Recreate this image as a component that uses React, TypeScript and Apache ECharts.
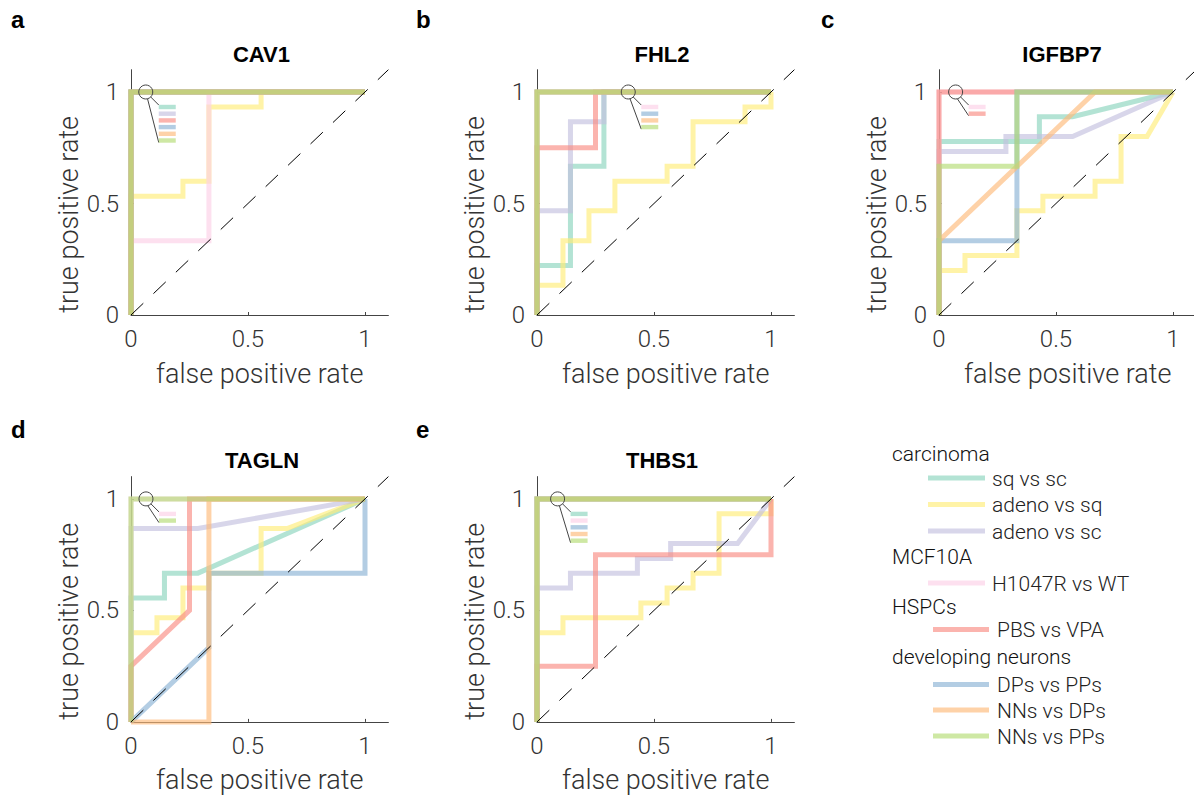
import React, { useEffect, useRef } from 'react';
import * as echarts from 'echarts';

// ---------- data ----------
const seriesNames = ['sq vs sc', 'adeno vs sq', 'adeno vs sc', 'H1047R vs WT', 'PBS vs VPA', 'DPs vs PPs', 'NNs vs DPs', 'NNs vs PPs'];
const seriesColors = ['#8ad4bd', '#ffec78', '#c3c0df', '#fccfe7', '#f98c82', '#8ab2d4', '#fdba79', '#b4dc73'];
const panelLetters = ['a', 'b', 'c', 'd', 'e'];
const panelTitles = ['CAV1', 'FHL2', 'IGFBP7', 'TAGLN', 'THBS1'];
const tickValues = [0, 0.5, 1];
const xAxisName = 'false positive rate';
const yAxisName = 'true positive rate';

const perfect = [[0, 0], [0, 1], [1, 1]];

const cav1 = [
  perfect,
  [[0, 0], [0, 0.533], [0.222, 0.533], [0.222, 0.6], [0.333, 0.6], [0.333, 0.933], [0.556, 0.933], [0.556, 1], [1, 1]],
  perfect,
  [[0, 0], [0, 0.333], [0.333, 0.333], [0.333, 1], [1, 1]],
  perfect,
  perfect,
  perfect,
  perfect,
];

const fhl2 = [
  [[0, 0], [0, 0.222], [0.143, 0.222], [0.143, 0.667], [0.286, 0.667], [0.286, 1], [1, 1]],
  [[0, 0], [0, 0.133], [0.111, 0.133], [0.111, 0.333], [0.222, 0.333], [0.222, 0.467], [0.333, 0.467], [0.333, 0.6], [0.556, 0.6], [0.556, 0.667], [0.667, 0.667], [0.667, 0.867], [0.889, 0.867], [0.889, 0.933], [1, 0.933], [1, 1]],
  [[0, 0], [0, 0.467], [0.143, 0.467], [0.143, 0.867], [0.286, 0.867], [0.286, 1], [1, 1]],
  perfect,
  [[0, 0], [0, 0.75], [0.25, 0.75], [0.25, 1], [1, 1]],
  perfect,
  perfect,
  perfect,
];

const igfbp7 = [
  [[0, 0], [0, 0.778], [0.429, 0.778], [0.429, 0.889], [0.571, 0.889], [1, 1]],
  [[0, 0], [0, 0.2], [0.111, 0.2], [0.111, 0.267], [0.333, 0.267], [0.333, 0.467], [0.444, 0.467], [0.444, 0.533], [0.667, 0.533], [0.667, 0.6], [0.778, 0.6], [0.778, 0.8], [0.889, 0.8], [1, 1]],
  [[0, 0], [0, 0.733], [0.286, 0.733], [0.286, 0.8], [0.571, 0.8], [1, 1]],
  perfect,
  perfect,
  [[0, 0], [0, 0.333], [0.333, 0.333], [0.333, 1], [1, 1]],
  [[0, 0], [0, 0.333], [0.667, 1], [1, 1]],
  [[0, 0], [0, 0.667], [0.333, 0.667], [0.333, 1], [1, 1]],
];

const tagln = [
  [[0, 0], [0, 0.556], [0.143, 0.556], [0.143, 0.667], [0.286, 0.667], [1, 1]],
  [[0, 0], [0, 0.4], [0.111, 0.4], [0.111, 0.467], [0.222, 0.467], [0.222, 0.6], [0.333, 0.6], [0.333, 0.667], [0.556, 0.667], [0.556, 0.867], [0.667, 0.867], [1, 1]],
  [[0, 0], [0, 0.867], [0.286, 0.867], [1, 1]],
  perfect,
  [[0, 0], [0, 0.25], [0.25, 0.5], [0.25, 1], [1, 1]],
  [[0, 0], [0.333, 0.333], [0.333, 0.667], [1, 0.667], [1, 1]],
  [[0, 0], [0.333, 0], [0.333, 1], [1, 1]],
  perfect,
];

const thbs1 = [
  perfect,
  [[0, 0], [0, 0.4], [0.111, 0.4], [0.111, 0.467], [0.444, 0.467], [0.444, 0.533], [0.556, 0.533], [0.556, 0.6], [0.667, 0.6], [0.667, 0.667], [0.778, 0.667], [0.778, 0.933], [1, 0.933], [1, 1]],
  [[0, 0], [0, 0.6], [0.143, 0.6], [0.143, 0.667], [0.429, 0.667], [0.429, 0.733], [0.571, 0.733], [0.571, 0.8], [0.857, 0.8], [1, 1]],
  perfect,
  [[0, 0], [0, 0.25], [0.25, 0.25], [0.25, 0.75], [1, 0.75], [1, 1]],
  perfect,
  perfect,
  perfect,
];

const panelCurves = [cav1, fhl2, igfbp7, tagln, thbs1];
const chanceLine = [[0, 0], [1.1, 1.1]];

// series hidden under the perfect curve, listed in each panel's inset
const hiddenPerPanel = [[0, 2, 4, 5, 6, 7], [3, 5, 6, 7], [3, 4], [3, 7], [0, 3, 5, 6, 7]];

const legendGroups = [
  { title: 'carcinoma', items: [0, 1, 2] },
  { title: 'MCF10A', items: [3] },
  { title: 'HSPCs', items: [4] },
  { title: 'developing neurons', items: [5, 6, 7] },
];

// ---------- layout (style, not data) ----------
const UX = 234;
const UY = 223;
const GW = UX * 1.1;
const GH = UY * 1.1;
const gridPos = [
  { left: 131, top: 69.7 },
  { left: 537, top: 69.7 },
  { left: 939, top: 69.7 },
  { left: 131, top: 476.6 },
  { left: 537, top: 476.6 },
];
const titlePos = [
  { x: 256.5, y: 51 }, { x: 657, y: 51 }, { x: 1057, y: 51 }, { x: 257, y: 457 }, { x: 657, y: 457 },
];
const letterPos = [
  { x: 11, y: 21 }, { x: 416, y: 21 }, { x: 821, y: 21 }, { x: 11, y: 431 }, { x: 416, y: 431 },
];
const insetX = [0.063, 0.39, 0.071, 0.064, 0.088];
const legendRowY = [455, 478, 504.5, 531, 558, 583, 608, 629.5, 658, 684.5, 710, 736];

const LIGHT = 'Roboto, "Open Sans", sans-serif';
const BOLD = '"Liberation Sans", Arial, sans-serif';
const OPA = 0.65;

function buildOption() {
  const grid: any[] = [];
  const xAxis: any[] = [];
  const yAxis: any[] = [];
  const series: any[] = [];
  const graphic: any[] = [];
  const title: any[] = [];

  gridPos.forEach((g, p) => {
    grid.push({ left: g.left, top: g.top, width: GW, height: GH, containLabel: false, outerBoundsMode: 'none' });
    const common = {
      type: 'value',
      min: 0,
      max: 1.1,
      interval: 0.5,
      gridIndex: p,
      splitLine: { show: false },
      axisLine: { show: true, lineStyle: { color: '#444', width: 1 } },
      axisTick: { show: true, inside: true, length: 3, customValues: tickValues, lineStyle: { color: '#444' } },
      axisLabel: {
        customValues: tickValues,
        formatter: (v: number) => String(v),
        color: '#333',
        fontFamily: LIGHT,
        fontWeight: 300,
        fontSize: 24,
        margin: 12,
      },
      nameLocation: 'middle',
      nameTextStyle: { color: '#333', fontFamily: LIGHT, fontWeight: 300, fontSize: 27 },
    };
    xAxis.push({ ...common, name: xAxisName, nameGap: 45 });
    yAxis.push({ ...common, name: yAxisName, nameGap: 49, nameTextStyle: { ...common.nameTextStyle, padding: [0, 44, 0, 0] } });

    panelCurves[p].forEach((curve, i) => {
      series.push({
        type: 'line',
        name: seriesNames[i],
        xAxisIndex: p,
        yAxisIndex: p,
        data: curve,
        symbol: 'none',
        clip: false,
        lineStyle: { color: seriesColors[i], width: 5, opacity: OPA, join: 'miter' },
        itemStyle: { color: seriesColors[i] },
        z: 2 + i * 0.01,
        silent: true,
      });
    });
    series.push({
      type: 'line',
      name: 'chance',
      xAxisIndex: p,
      yAxisIndex: p,
      data: chanceLine,
      symbol: 'none',
      clip: false,
      lineStyle: { color: '#000', width: 1, type: [17, 14] },
      z: 3,
      silent: true,
    });

    title.push({
      text: panelTitles[p],
      left: titlePos[p].x,
      top: titlePos[p].y - 13,
      textAlign: 'center',
      textStyle: { fontFamily: BOLD, fontWeight: 'bold', fontSize: 22, color: '#000' },
    });

    graphic.push({
      type: 'text',
      left: letterPos[p].x,
      top: letterPos[p].y - 14,
      style: { text: panelLetters[p], font: `bold 24px ${BOLD}`, fill: '#000' },
    });

    // inset pointer listing hidden curves
    const cx = g.left + insetX[p] * UX;
    const cy = g.top + GH - UY;
    const hidden = hiddenPerPanel[p];
    const bx = cx + 13;
    const by0 = cy + 15;
    const step = 6.7;
    graphic.push({
      type: 'circle',
      shape: { cx, cy, r: 7 },
      style: { fill: 'none', stroke: '#444', lineWidth: 1 },
      z: 10,
    });
    graphic.push({
      type: 'line',
      shape: { x1: cx + 5, y1: cy + 5, x2: bx, y2: by0 - 2 },
      style: { stroke: '#444', lineWidth: 1 },
      z: 10,
    });
    graphic.push({
      type: 'line',
      shape: { x1: cx + 1.8, y1: cy + 6.8, x2: bx, y2: by0 + (hidden.length - 1) * step + 2 },
      style: { stroke: '#444', lineWidth: 1 },
      z: 10,
    });
    hidden.forEach((si, k) => {
      graphic.push({
        type: 'rect',
        shape: { x: bx, y: by0 + k * step - 2.2, width: 17, height: 4.4 },
        style: { fill: seriesColors[si], opacity: OPA },
        z: 10,
      });
    });
  });

  // right-side legend
  let row = 0;
  legendGroups.forEach((grp, gi) => {
    graphic.push({
      type: 'text',
      left: 892,
      top: legendRowY[row] - 12,
      style: { text: grp.title, font: `300 21px ${LIGHT}`, fill: '#111' },
    });
    row++;
    const lx0 = gi < 2 ? 928 : 933;
    const lx1 = gi < 2 ? 985 : 989;
    const tx = gi < 2 ? 992 : 997;
    grp.items.forEach((si) => {
      const y = legendRowY[row];
      graphic.push({
        type: 'line',
        shape: { x1: lx0, y1: y, x2: lx1, y2: y },
        style: { stroke: seriesColors[si], lineWidth: 5, opacity: OPA },
      });
      graphic.push({
        type: 'text',
        left: tx,
        top: y - 10,
        style: { text: seriesNames[si], font: `300 21px ${LIGHT}`, fill: '#222' },
      });
      row++;
    });
  });

  return {
    animation: false,
    backgroundColor: '#fff',
    title,
    grid,
    xAxis,
    yAxis,
    series,
    graphic,
  };
}

export default function App() {
  const ref = useRef<HTMLDivElement>(null);
  useEffect(() => {
    if (!ref.current) return;
    const chart = echarts.init(ref.current, null, { renderer: 'svg' });
    chart.setOption(buildOption() as any);
    return () => chart.dispose();
  }, []);
  return (
    <div
      ref={ref}
      style={{ position: 'fixed', left: 0, top: 0, width: 1194, height: 803, background: '#fff' }}
    />
  );
}
